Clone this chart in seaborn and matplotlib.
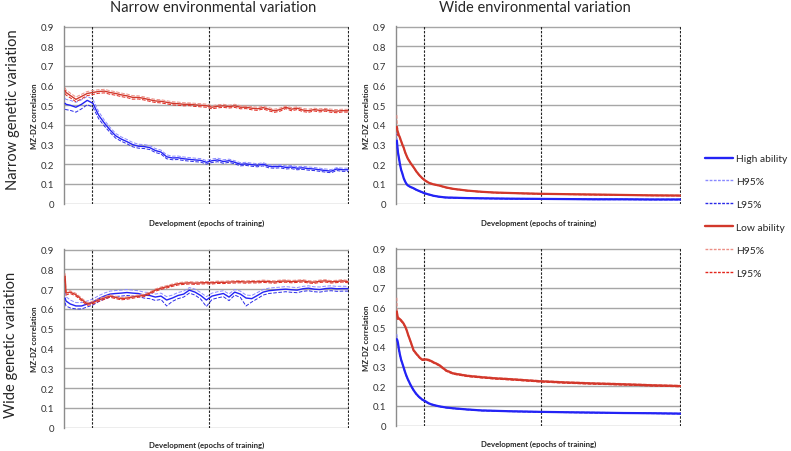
import numpy as np
import matplotlib
matplotlib.use("Agg")
import matplotlib.pyplot as plt
from matplotlib.lines import Line2D
import seaborn as sns

# epochs sampled for the noisy (left) and smooth (right) panels
X_LEFT = [2, 5, 20, 40, 60, 80, 100, 120, 140, 160, 180, 200, 220, 240, 260, 280, 300, 320, 340, 360,
          380, 400, 420, 440, 460, 480, 500, 520, 540, 560, 580, 600, 620, 640, 660, 680, 700, 720,
          740, 760, 780, 800, 820, 840, 860, 880, 900, 920, 940, 960, 980, 1000]
X_RIGHT = [1, 3, 5, 8, 12, 16, 20, 25, 30, 35, 40, 50, 60, 70, 80, 90, 100, 115, 130, 150, 175, 200,
           250, 300, 350, 400, 500, 600, 700, 800, 900, 1000]

# narrow genetic / narrow environmental
nn_low = [0.575, 0.565, 0.55, 0.53, 0.545, 0.56, 0.565, 0.57, 0.572, 0.565, 0.56, 0.553, 0.548, 0.54, 0.54, 0.535, 0.528, 0.522, 0.52, 0.515,
          0.51, 0.508, 0.505, 0.505, 0.502, 0.5, 0.498, 0.49, 0.495, 0.497, 0.493, 0.497, 0.49, 0.49, 0.485, 0.482, 0.488, 0.48,
          0.472, 0.478, 0.49, 0.48, 0.485, 0.476, 0.472, 0.478, 0.474, 0.477, 0.472, 0.47, 0.473, 0.472]
nn_low_hi = [0.59, 0.578, 0.562, 0.542, 0.556, 0.57, 0.575, 0.579, 0.581, 0.574, 0.569, 0.562, 0.557, 0.549, 0.548, 0.543, 0.536, 0.53, 0.528, 0.523,
             0.518, 0.516, 0.513, 0.512, 0.51, 0.508, 0.506, 0.498, 0.503, 0.505, 0.5, 0.505, 0.498, 0.497, 0.493, 0.49, 0.495, 0.488,
             0.48, 0.486, 0.497, 0.488, 0.492, 0.484, 0.48, 0.485, 0.482, 0.484, 0.48, 0.478, 0.48, 0.479]
nn_low_lo = [0.56, 0.552, 0.538, 0.518, 0.533, 0.549, 0.555, 0.561, 0.563, 0.556, 0.551, 0.544, 0.539, 0.531, 0.532, 0.527, 0.52, 0.514, 0.512, 0.507,
             0.502, 0.5, 0.497, 0.498, 0.494, 0.492, 0.49, 0.482, 0.487, 0.489, 0.486, 0.489, 0.482, 0.483, 0.477, 0.474, 0.481, 0.472,
             0.464, 0.47, 0.483, 0.472, 0.478, 0.468, 0.464, 0.471, 0.466, 0.47, 0.464, 0.462, 0.466, 0.465]
nn_high = [0.51, 0.505, 0.5, 0.49, 0.505, 0.525, 0.51, 0.45, 0.41, 0.375, 0.345, 0.328, 0.315, 0.3, 0.292, 0.29, 0.285, 0.27, 0.262, 0.238,
           0.232, 0.233, 0.228, 0.225, 0.222, 0.22, 0.21, 0.218, 0.222, 0.214, 0.218, 0.21, 0.2, 0.202, 0.198, 0.195, 0.2, 0.19,
           0.188, 0.19, 0.184, 0.186, 0.18, 0.182, 0.178, 0.176, 0.172, 0.168, 0.165, 0.176, 0.172, 0.172]
nn_high_hi = [0.535, 0.53, 0.525, 0.515, 0.528, 0.545, 0.53, 0.468, 0.425, 0.388, 0.357, 0.339, 0.326, 0.311, 0.302, 0.3, 0.295, 0.28, 0.272, 0.248,
              0.241, 0.242, 0.237, 0.234, 0.231, 0.229, 0.219, 0.227, 0.231, 0.223, 0.226, 0.218, 0.208, 0.21, 0.206, 0.203, 0.208, 0.198,
              0.196, 0.198, 0.192, 0.194, 0.188, 0.19, 0.186, 0.184, 0.18, 0.176, 0.173, 0.183, 0.18, 0.18]
nn_high_lo = [0.48, 0.478, 0.474, 0.465, 0.482, 0.503, 0.49, 0.432, 0.395, 0.362, 0.333, 0.317, 0.304, 0.289, 0.282, 0.28, 0.275, 0.26, 0.252, 0.228,
              0.223, 0.224, 0.219, 0.216, 0.213, 0.211, 0.201, 0.209, 0.213, 0.205, 0.21, 0.202, 0.192, 0.194, 0.19, 0.187, 0.192, 0.182,
              0.18, 0.182, 0.176, 0.178, 0.172, 0.174, 0.17, 0.168, 0.164, 0.16, 0.157, 0.168, 0.164, 0.164]

# wide genetic / narrow environmental
wn_low = [0.765, 0.68, 0.685, 0.672, 0.648, 0.625, 0.632, 0.645, 0.655, 0.665, 0.658, 0.652, 0.655, 0.66, 0.665, 0.668, 0.68, 0.695, 0.705, 0.712,
          0.72, 0.727, 0.73, 0.732, 0.73, 0.732, 0.733, 0.732, 0.735, 0.734, 0.736, 0.737, 0.738, 0.736, 0.738, 0.737, 0.74, 0.738,
          0.736, 0.74, 0.741, 0.738, 0.74, 0.742, 0.737, 0.735, 0.74, 0.742, 0.737, 0.739, 0.742, 0.738]
wn_low_hi = [0.78, 0.69, 0.692, 0.679, 0.655, 0.632, 0.639, 0.652, 0.662, 0.671, 0.664, 0.658, 0.661, 0.666, 0.671, 0.674, 0.686, 0.701, 0.711, 0.718,
             0.726, 0.733, 0.736, 0.738, 0.736, 0.738, 0.739, 0.738, 0.741, 0.74, 0.742, 0.743, 0.744, 0.742, 0.744, 0.743, 0.746, 0.744,
             0.742, 0.746, 0.747, 0.744, 0.746, 0.748, 0.743, 0.741, 0.746, 0.748, 0.743, 0.745, 0.748, 0.744]
wn_low_lo = [0.75, 0.67, 0.678, 0.665, 0.641, 0.618, 0.625, 0.638, 0.648, 0.659, 0.652, 0.646, 0.649, 0.654, 0.659, 0.662, 0.674, 0.689, 0.699, 0.706,
             0.714, 0.721, 0.724, 0.726, 0.724, 0.726, 0.727, 0.726, 0.729, 0.728, 0.73, 0.731, 0.732, 0.73, 0.732, 0.731, 0.734, 0.732,
             0.73, 0.734, 0.735, 0.732, 0.734, 0.736, 0.731, 0.729, 0.734, 0.736, 0.731, 0.733, 0.736, 0.732]
wn_high = [0.655, 0.64, 0.625, 0.615, 0.615, 0.625, 0.635, 0.652, 0.665, 0.675, 0.678, 0.68, 0.683, 0.68, 0.678, 0.67, 0.668, 0.66, 0.665, 0.645,
           0.655, 0.668, 0.675, 0.695, 0.685, 0.668, 0.645, 0.665, 0.672, 0.678, 0.66, 0.685, 0.675, 0.655, 0.652, 0.668, 0.685, 0.692,
           0.695, 0.698, 0.7, 0.697, 0.695, 0.702, 0.705, 0.7, 0.698, 0.703, 0.705, 0.702, 0.703, 0.703]
wn_high_hi = [0.685, 0.662, 0.645, 0.632, 0.632, 0.64, 0.65, 0.667, 0.68, 0.69, 0.693, 0.695, 0.698, 0.695, 0.692, 0.685, 0.683, 0.675, 0.68, 0.662,
              0.67, 0.683, 0.69, 0.708, 0.7, 0.683, 0.662, 0.68, 0.687, 0.692, 0.676, 0.698, 0.69, 0.67, 0.668, 0.683, 0.698, 0.705,
              0.708, 0.71, 0.713, 0.71, 0.708, 0.714, 0.717, 0.712, 0.711, 0.715, 0.717, 0.714, 0.715, 0.714]
wn_high_lo = [0.632, 0.615, 0.605, 0.6, 0.6, 0.61, 0.62, 0.637, 0.65, 0.66, 0.663, 0.665, 0.668, 0.665, 0.663, 0.655, 0.652, 0.643, 0.648, 0.615,
              0.638, 0.652, 0.66, 0.68, 0.67, 0.65, 0.612, 0.648, 0.656, 0.662, 0.642, 0.67, 0.658, 0.615, 0.635, 0.652, 0.67, 0.678,
              0.681, 0.684, 0.687, 0.684, 0.682, 0.689, 0.692, 0.687, 0.685, 0.69, 0.692, 0.689, 0.69, 0.69]

# narrow genetic / wide environmental
nw_low = [0.39, 0.37, 0.362, 0.348, 0.335, 0.318, 0.302, 0.285, 0.262, 0.244, 0.228, 0.205, 0.185, 0.163, 0.145, 0.13, 0.118, 0.105, 0.098, 0.092,
          0.082, 0.075, 0.066, 0.06, 0.056, 0.054, 0.05, 0.048, 0.046, 0.044, 0.042, 0.041]
nw_low_hi = [0.45, 0.395, 0.372, 0.355, 0.341, 0.323, 0.307, 0.289, 0.266, 0.248, 0.231, 0.208, 0.188, 0.166, 0.147, 0.132, 0.12, 0.107, 0.1, 0.094,
             0.084, 0.077, 0.068, 0.062, 0.058, 0.056, 0.052, 0.05, 0.048, 0.046, 0.044, 0.043]
nw_low_lo = [0.355, 0.348, 0.35, 0.341, 0.329, 0.313, 0.297, 0.281, 0.258, 0.24, 0.225, 0.202, 0.182, 0.16, 0.143, 0.128, 0.116, 0.103, 0.096, 0.09,
             0.08, 0.073, 0.064, 0.058, 0.054, 0.052, 0.048, 0.046, 0.044, 0.042, 0.04, 0.039]
nw_high = [0.32, 0.29, 0.26, 0.235, 0.2, 0.172, 0.155, 0.13, 0.113, 0.1, 0.092, 0.084, 0.078, 0.07, 0.064, 0.058, 0.052, 0.046, 0.04, 0.035,
           0.031, 0.03, 0.028, 0.027, 0.026, 0.025, 0.024, 0.023, 0.022, 0.022, 0.021, 0.021]
nw_high_hi = [0.36, 0.3, 0.268, 0.24, 0.204, 0.175, 0.158, 0.133, 0.115, 0.102, 0.094, 0.086, 0.08, 0.072, 0.066, 0.06, 0.054, 0.048, 0.042, 0.037,
              0.033, 0.032, 0.03, 0.029, 0.028, 0.027, 0.026, 0.025, 0.024, 0.024, 0.023, 0.023]
nw_high_lo = [0.285, 0.28, 0.252, 0.23, 0.196, 0.169, 0.152, 0.127, 0.111, 0.098, 0.09, 0.082, 0.076, 0.068, 0.062, 0.056, 0.05, 0.044, 0.038, 0.033,
              0.029, 0.028, 0.026, 0.025, 0.024, 0.023, 0.022, 0.021, 0.02, 0.02, 0.019, 0.019]

# wide genetic / wide environmental
ww_low = [0.58, 0.555, 0.55, 0.545, 0.54, 0.535, 0.528, 0.518, 0.505, 0.488, 0.465, 0.425, 0.383, 0.365, 0.348, 0.335, 0.337, 0.333, 0.322, 0.308,
          0.28, 0.265, 0.253, 0.246, 0.24, 0.236, 0.226, 0.219, 0.214, 0.21, 0.205, 0.201]
ww_low_hi = [0.65, 0.575, 0.558, 0.551, 0.545, 0.54, 0.533, 0.523, 0.51, 0.493, 0.47, 0.43, 0.388, 0.369, 0.352, 0.339, 0.341, 0.337, 0.326, 0.312,
             0.284, 0.269, 0.257, 0.25, 0.244, 0.24, 0.23, 0.223, 0.218, 0.214, 0.209, 0.205]
ww_low_lo = [0.55, 0.54, 0.542, 0.539, 0.535, 0.53, 0.523, 0.513, 0.5, 0.483, 0.46, 0.42, 0.378, 0.361, 0.344, 0.331, 0.333, 0.329, 0.318, 0.304,
             0.276, 0.261, 0.249, 0.242, 0.236, 0.232, 0.222, 0.215, 0.21, 0.206, 0.201, 0.197]
ww_high = [0.44, 0.43, 0.42, 0.39, 0.36, 0.335, 0.318, 0.295, 0.272, 0.252, 0.235, 0.205, 0.18, 0.16, 0.145, 0.133, 0.125, 0.112, 0.105, 0.098,
           0.092, 0.088, 0.082, 0.077, 0.075, 0.073, 0.07, 0.068, 0.066, 0.064, 0.063, 0.061]
ww_high_hi = [0.465, 0.445, 0.43, 0.398, 0.366, 0.34, 0.323, 0.3, 0.276, 0.256, 0.239, 0.208, 0.183, 0.163, 0.148, 0.136, 0.128, 0.115, 0.107, 0.1,
              0.094, 0.09, 0.084, 0.079, 0.077, 0.075, 0.072, 0.07, 0.068, 0.066, 0.065, 0.063]
ww_high_lo = [0.415, 0.415, 0.41, 0.382, 0.354, 0.33, 0.313, 0.29, 0.268, 0.248, 0.231, 0.202, 0.177, 0.157, 0.142, 0.13, 0.122, 0.109, 0.103, 0.096,
              0.09, 0.086, 0.08, 0.075, 0.073, 0.071, 0.068, 0.066, 0.064, 0.062, 0.061, 0.059]

VLINES = [98, 509, 1000]
YTICKS = [0, 0.1, 0.2, 0.3, 0.4, 0.5, 0.6, 0.7, 0.8, 0.9]
YTICK_LABELS = ["0", "0.1", "0.2", "0.3", "0.4", "0.5", "0.6", "0.7", "0.8", "0.9"]
COL_TITLES = ["Narrow environmental variation", "Wide environmental variation"]
ROW_TITLES = ["Narrow genetic variation", "Wide genetic variation"]
LEGEND_LABELS = ["High ability", "H95%", "L95%", "Low ability", "H95%", "L95%"]

BLUE, BLUE_HI, BLUE_LO = "#2323f5", "#8a8aff", "#2a2ae8"
RED, RED_HI, RED_LO = "#d2382b", "#ec8f86", "#e3261c"


def plot_panel(ax, x, high, high_hi, high_lo, low, low_hi, low_lo, lw_mean, xlab_y):
    ax.yaxis.grid(True, color="#a6a6a6", lw=1.0)
    ax.set_axisbelow(True)
    for v in VLINES:
        ax.axvline(v, color="#222222", lw=0.8, linestyle=(0, (2.2, 1.3)), zorder=1)
    series = [(high_hi, BLUE_HI, "--", 0.7), (high_lo, BLUE_LO, "--", 0.7), (high, BLUE, "-", lw_mean),
              (low_hi, RED_HI, "--", 0.7), (low_lo, RED_LO, "--", 0.7), (low, RED, "-", lw_mean)]
    for y, c, ls, lw in series:
        sns.lineplot(x=x, y=y, ax=ax, color=c, linestyle=ls, linewidth=lw, estimator=None, zorder=3)
    ax.set_xlim(-2, 1003)
    ax.set_ylim(-0.002, 0.903)
    ax.set_xticks([])
    ax.set_yticks(YTICKS)
    ax.set_yticklabels(YTICK_LABELS, fontsize=7, color="#333333")
    ax.tick_params(axis="y", length=0, pad=7)
    for s in ["top", "right", "bottom"]:
        ax.spines[s].set_visible(False)
    ax.spines["left"].set_color("#8c8c8c")
    ax.spines["left"].set_linewidth(1.0)
    ax.set_xlabel("Development (epochs of training)", fontsize=5.6, fontweight="bold")
    ax.set_ylabel("MZ-DZ correlation", fontsize=5.6, fontweight="bold")
    ax.xaxis.set_label_coords(0.5, xlab_y)
    ax.yaxis.set_label_coords(-0.092, 0.5)


sns.set_style("white")
plt.rcParams["font.family"] = ["Lato", "DejaVu Sans"]

W, H = 791, 452
fig = plt.figure(figsize=(W / 100, H / 100), dpi=100)
ax_tl = fig.add_axes([64 / W, 1 - 205 / H, 285 / W, 178 / H])
ax_tr = fig.add_axes([396 / W, 1 - 205 / H, 285 / W, 178 / H])
ax_bl = fig.add_axes([64 / W, 1 - 429 / H, 285 / W, 179 / H])
ax_br = fig.add_axes([396 / W, 1 - 427 / H, 285 / W, 178 / H])

plot_panel(ax_tl, X_LEFT, nn_high, nn_high_hi, nn_high_lo, nn_low, nn_low_hi, nn_low_lo, 1.0, -0.085)
plot_panel(ax_bl, X_LEFT, wn_high, wn_high_hi, wn_high_lo, wn_low, wn_low_hi, wn_low_lo, 1.0, -0.07)
plot_panel(ax_tr, X_RIGHT, nw_high, nw_high_hi, nw_high_lo, nw_low, nw_low_hi, nw_low_lo, 1.6, -0.085)
plot_panel(ax_br, X_RIGHT, ww_high, ww_high_hi, ww_high_lo, ww_low, ww_low_hi, ww_low_lo, 1.6, -0.08)

fig.text(213 / W, 1 - 8 / H, COL_TITLES[0], fontsize=10.5, ha="center", va="center")
fig.text(535 / W, 1 - 8 / H, COL_TITLES[1], fontsize=10.5, ha="center", va="center")
fig.text(13 / W, 1 - 110 / H, ROW_TITLES[0], fontsize=10.5, rotation=90, ha="center", va="center")
fig.text(11 / W, 1 - 345 / H, ROW_TITLES[1], fontsize=10.5, rotation=90, ha="center", va="center")

handles = [Line2D([], [], color=BLUE, lw=1.7),
           Line2D([], [], color=BLUE_HI, lw=1.0, linestyle=(0, (2, 1))),
           Line2D([], [], color=BLUE_LO, lw=1.0, linestyle=(0, (2, 1))),
           Line2D([], [], color=RED, lw=1.7),
           Line2D([], [], color=RED_HI, lw=1.0, linestyle=(0, (2, 1))),
           Line2D([], [], color=RED_LO, lw=1.0, linestyle=(0, (2, 1)))]
fig.legend(handles, LEGEND_LABELS, loc="upper left", bbox_to_anchor=(705 / W, 1 - 155 / H),
           frameon=False, fontsize=7.4, handlelength=2.7, handletextpad=0.35,
           labelspacing=1.33, borderpad=0, borderaxespad=0)

plt.savefig("out.png", dpi=100)
plt.close()
